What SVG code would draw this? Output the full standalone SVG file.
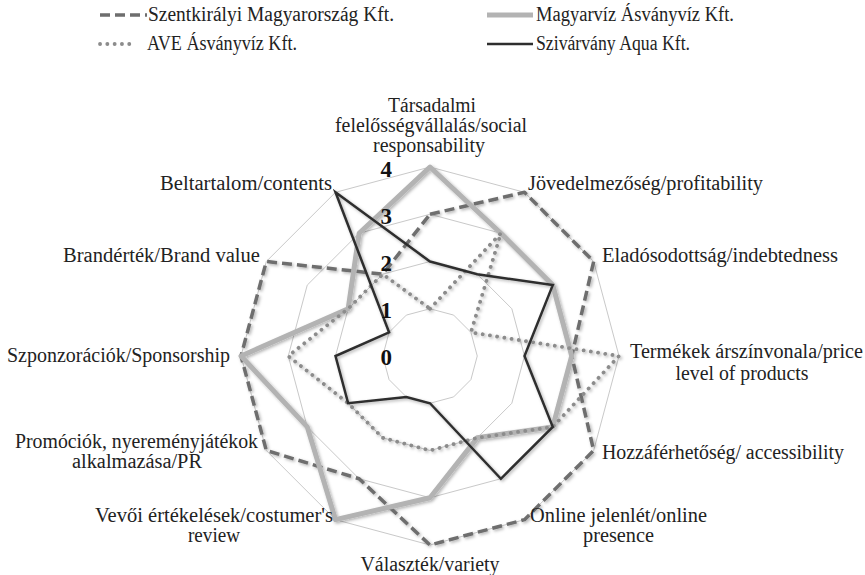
<svg xmlns="http://www.w3.org/2000/svg" width="865" height="575" viewBox="0 0 865 575">
<style>
text{font-family:"Liberation Serif","DejaVu Serif",serif;font-size:20px;fill:#222}
.num{font-weight:bold;font-size:23px;text-anchor:end;fill:#111}
.grid{fill:none;stroke:#c9c9c9;stroke-width:1}
.s1{fill:none;stroke:#6e6e6e;stroke-width:3.5;stroke-dasharray:10 5;stroke-linejoin:round}
.s2{fill:none;stroke:#b3b3b3;stroke-width:5;stroke-linejoin:round}
.s3{fill:none;stroke:#8c8c8c;stroke-width:3.8;stroke-dasharray:0.1 7.2;stroke-linecap:round;stroke-linejoin:round}
.s4{fill:none;stroke:#2e2e2e;stroke-width:2.5;stroke-linejoin:miter}
.mid{text-anchor:middle}
.end{text-anchor:end}
</style>
<defs>
<filter id="sh" x="-10%" y="-10%" width="120%" height="120%">
<feDropShadow dx="1.5" dy="1.5" stdDeviation="1.5" flood-color="#000" flood-opacity="0.3"/>
</filter>
</defs>
<rect width="865" height="575" fill="#fff"/>
<g id="legend">
<line x1="100" y1="15" x2="147" y2="15" class="s1" stroke-dasharray="9 4"/>
<text x="148" y="21" textLength="246" lengthAdjust="spacingAndGlyphs">Szentkirályi Magyarország Kft.</text>
<line x1="487" y1="15" x2="533" y2="15" class="s2"/>
<text x="536" y="21" textLength="198" lengthAdjust="spacingAndGlyphs">Magyarvíz Ásványvíz Kft.</text>
<line x1="100" y1="44" x2="136" y2="44" class="s3" stroke-dasharray="0.1 8"/>
<text x="147" y="50" textLength="150" lengthAdjust="spacingAndGlyphs">AVE Ásványvíz Kft.</text>
<line x1="487" y1="44" x2="533" y2="44" class="s4"/>
<text x="536" y="50" textLength="154" lengthAdjust="spacingAndGlyphs">Szivárvány Aqua Kft.</text>
</g>
<g id="grid">
<polygon class="grid" points="430,308.75 453.63,315.08 470.92,332.37 477.25,356 470.92,379.63 453.63,396.92 430,403.25 406.37,396.92 389.08,379.63 382.75,356 389.08,332.37 406.37,315.08"/>
<polygon class="grid" points="430,261.5 477.25,274.16 511.84,308.75 524.5,356 511.84,403.25 477.25,437.84 430,450.5 382.75,437.84 348.16,403.25 335.5,356 348.16,308.75 382.75,274.16"/>
<polygon class="grid" points="430,214.25 500.88,233.24 552.76,285.12 571.75,356 552.76,426.88 500.88,478.76 430,497.75 359.12,478.76 307.24,426.88 288.25,356 307.24,285.12 359.12,233.24"/>
<polygon class="grid" points="430,167 524.5,192.32 593.68,261.5 619,356 593.68,450.5 524.5,519.68 430,545 335.5,519.68 266.32,450.5 241,356 266.32,261.5 335.5,192.32"/>
</g>
<g id="series" filter="url(#sh)">
<polygon id="szentkiralyi" class="s1" points="430,214.25 524.5,192.32 593.68,261.5 571.75,356 593.68,450.5 524.5,519.68 430,545 359.12,478.76 266.32,450.5 241,356 266.32,261.5 382.75,274.16"/>
<polygon id="magyarviz" class="s2" points="430,167 500.88,233.24 552.76,285.12 571.75,356 552.76,426.88 477.25,437.84 430,497.75 335.5,519.68 307.24,426.88 241,356 348.16,308.75 359.12,233.24"/>
<polygon id="ave" class="s3" points="430,308.75 500.88,233.24 470.92,332.37 619,356 552.76,426.88 477.25,437.84 430,450.5 382.75,437.84 348.16,403.25 288.25,356 348.16,308.75 382.75,274.16"/>
<polygon id="szivarvany" class="s4" points="430,261.5 477.25,274.16 552.76,285.12 524.5,356 552.76,426.88 500.88,478.76 430,403.25 406.37,396.92 348.16,403.25 335.5,356 389.08,332.37 335.5,192.32"/>
</g>
<g id="axis-values">
<text class="num" x="392" y="364.5">0</text>
<text class="num" x="392" y="317.5">1</text>
<text class="num" x="392" y="270.5">2</text>
<text class="num" x="392" y="223.5">3</text>
<text class="num" x="392" y="177">4</text>
</g>
<g id="labels">
<text class="mid" x="432" y="112" textLength="88" lengthAdjust="spacingAndGlyphs">Társadalmi</text>
<text class="mid" x="431" y="132" textLength="192" lengthAdjust="spacingAndGlyphs">felelősségvállalás/social</text>
<text class="mid" x="429" y="152" textLength="112" lengthAdjust="spacingAndGlyphs">responsability</text>
<text x="528" y="190" textLength="235" lengthAdjust="spacingAndGlyphs">Jövedelmezőség/profitability</text>
<text x="602" y="262" textLength="236" lengthAdjust="spacingAndGlyphs">Eladósodottság/indebtedness</text>
<text x="630" y="358" textLength="233" lengthAdjust="spacingAndGlyphs">Termékek árszínvonala/price</text>
<text class="mid" x="742" y="380" textLength="133" lengthAdjust="spacingAndGlyphs">level of products</text>
<text x="602" y="459" textLength="242" lengthAdjust="spacingAndGlyphs">Hozzáférhetőség/ accessibility</text>
<text class="mid" x="618.5" y="522" textLength="177" lengthAdjust="spacingAndGlyphs">Online jelenlét/online</text>
<text class="mid" x="618.5" y="542" textLength="71" lengthAdjust="spacingAndGlyphs">presence</text>
<text class="mid" x="430" y="571" textLength="139" lengthAdjust="spacingAndGlyphs">Választék/variety</text>
<text class="mid" x="214" y="522" textLength="238" lengthAdjust="spacingAndGlyphs">Vevői értékelések/costumer's</text>
<text class="mid" x="214" y="542" textLength="52" lengthAdjust="spacingAndGlyphs">review</text>
<text class="mid" x="136.5" y="448" textLength="243" lengthAdjust="spacingAndGlyphs">Promóciók, nyereményjátékok</text>
<text class="mid" x="137" y="468" textLength="130" lengthAdjust="spacingAndGlyphs">alkalmazása/PR</text>
<text class="end" x="230" y="362" textLength="223" lengthAdjust="spacingAndGlyphs">Szponzorációk/Sponsorship</text>
<text class="end" x="260" y="262" textLength="197" lengthAdjust="spacingAndGlyphs">Brandérték/Brand value</text>
<text class="end" x="332" y="190" textLength="172" lengthAdjust="spacingAndGlyphs">Beltartalom/contents</text>
</g>
</svg>
